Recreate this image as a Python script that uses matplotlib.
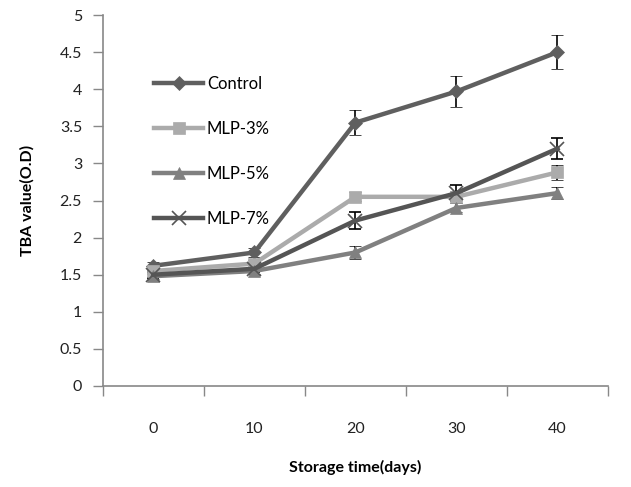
import matplotlib
matplotlib.use("Agg")
import matplotlib.pyplot as plt
from matplotlib.lines import Line2D
import numpy as np

days = ["0", "10", "20", "30", "40"]
series_names = ["Control", "MLP-3%", "MLP-5%", "MLP-7%"]
control = [1.62, 1.80, 3.55, 3.97, 4.50]
control_err = [0.05, 0.06, 0.17, 0.21, 0.23]
mlp3 = [1.55, 1.65, 2.55, 2.55, 2.88]
mlp3_err = [0.04, 0.05, 0.06, 0.08, 0.10]
mlp5 = [1.48, 1.55, 1.80, 2.40, 2.60]
mlp5_err = [0.04, 0.04, 0.09, 0.06, 0.08]
mlp7 = [1.50, 1.58, 2.23, 2.60, 3.20]
mlp7_err = [0.04, 0.05, 0.11, 0.11, 0.14]

plt.rcParams['font.family'] = ['Lato', 'DejaVu Sans']

fig = plt.figure(figsize=(6.31, 4.87), dpi=100)
ax = fig.add_axes([0.163, 0.2074, 0.8005, 0.7617])

x = np.arange(len(days))
styles = [
    (control, control_err, "#5f5f5f", "D", 7, 3.2),
    (mlp3, mlp3_err, "#ababab", "s", 9, 3.2),
    (mlp5, mlp5_err, "#808080", "^", 9, 3.2),
    (mlp7, mlp7_err, "#555555", "x", 10, 3.2),
]
handles = []
for name, (vals, err, col, mk, ms, lw) in zip(series_names, styles):
    mew = 1.2 if mk == "x" else 0.5
    ax.errorbar(x, vals, yerr=err, color=col, marker=mk, markersize=ms,
                linewidth=lw, ecolor="black", elinewidth=1.2, capsize=4,
                capthick=1.2, markeredgewidth=mew,
                markeredgecolor=col, zorder=3)
    handles.append(Line2D([], [], color=col, marker=mk, markersize=ms,
                          linewidth=lw, markeredgewidth=mew,
                          markeredgecolor=col, label=name))

ax.set_xlim(-0.5, 4.5)
ax.set_ylim(0, 5)
ax.set_yticks(np.arange(0, 5.01, 0.5))
ax.set_yticklabels(["0", "0.5", "1", "1.5", "2", "2.5", "3", "3.5", "4", "4.5", "5"])
ax.set_xticks(x)
ax.set_xticklabels(days)
ax.set_xticks(np.arange(-0.5, 4.6, 1), minor=True)
ax.tick_params(axis='x', which='major', length=0, pad=26, labelsize=11.5, colors="#222222")
ax.tick_params(axis='x', which='minor', length=7, width=1, color="#888888")
ax.tick_params(axis='y', length=7, width=1, color="#888888", labelsize=11.5, pad=8, labelcolor="#222222")
for s in ["top", "right"]:
    ax.spines[s].set_visible(False)
for s in ["left", "bottom"]:
    ax.spines[s].set_color("#888888")
    ax.spines[s].set_linewidth(1.2)

ax.set_ylabel("TBA value(O.D)", fontsize=11.5, fontweight="bold", labelpad=18)
ax.set_xlabel("Storage time(days)", fontsize=11.5, fontweight="bold", labelpad=17)

ax.legend(handles=handles, loc="upper left", bbox_to_anchor=(0.089, 0.855), frameon=False,
          fontsize=12, labelspacing=1.75, handlelength=2.9, handletextpad=0.25,
          borderaxespad=0)

fig.savefig("out.png", dpi=100)
